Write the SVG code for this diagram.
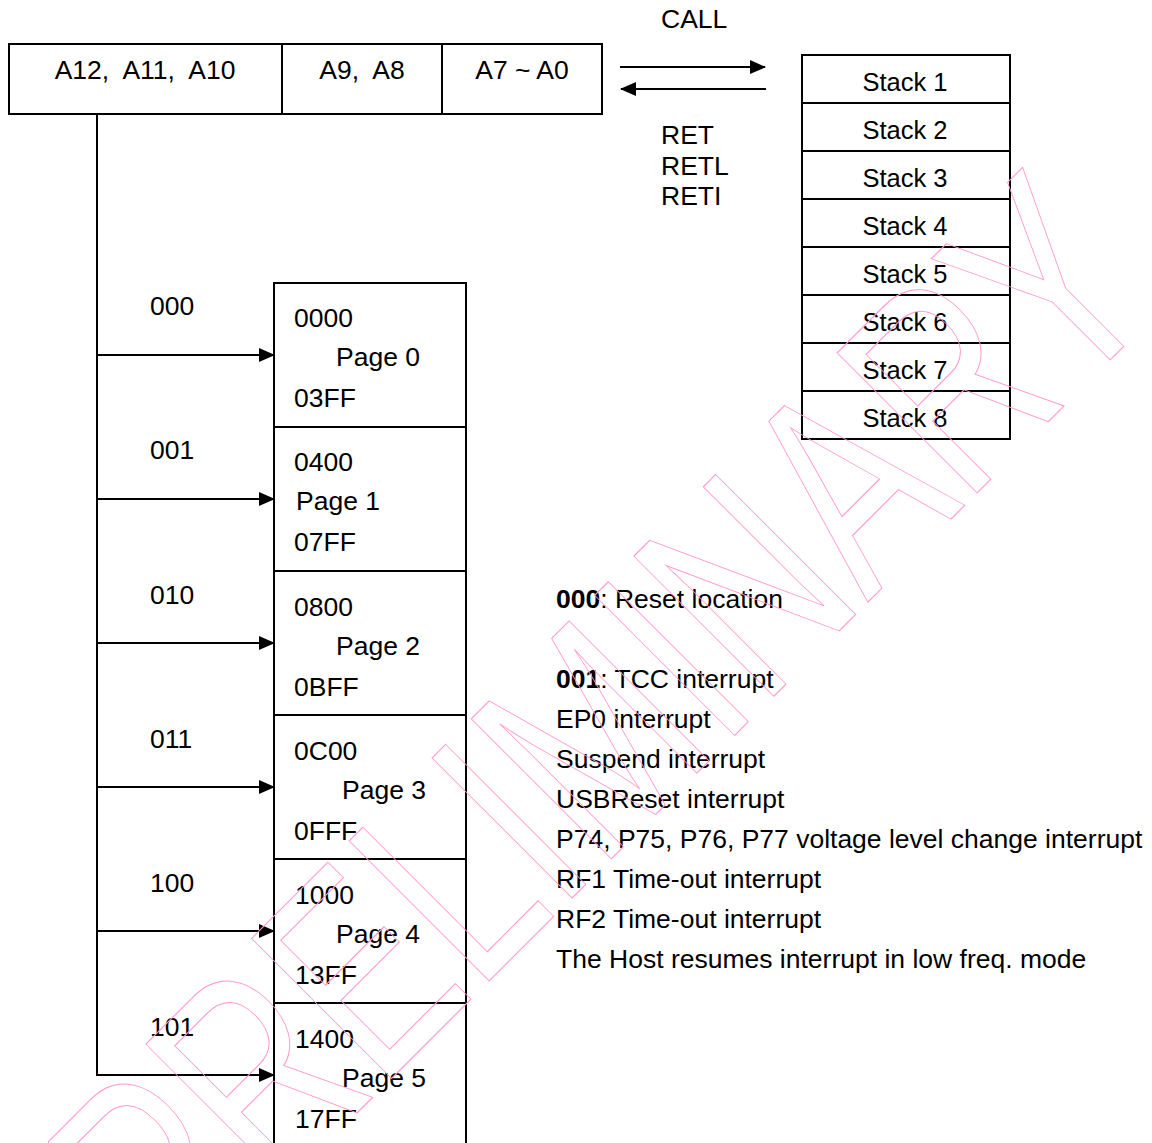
<svg xmlns="http://www.w3.org/2000/svg" width="1152" height="1143" viewBox="0 0 1152 1143">
<style>
  text { font-family: "Liberation Sans", Arial, sans-serif; font-size: 26.5px; fill: #000; }
  .stk { font-size: 25.5px; text-anchor: middle; }
  .box { fill: #fff; stroke: #000; stroke-width: 2; }
  .ln { fill: none; stroke: #000; stroke-width: 2; }
  .wm { font-family: "Liberation Sans", Arial, sans-serif; font-size: 207px; fill: none; stroke: #ff99cc; stroke-width: 1; }
</style>
<defs>
  <marker id="ah" markerWidth="16" markerHeight="14" refX="15" refY="7" orient="auto" markerUnits="userSpaceOnUse">
    <path d="M0,0 L16,7 L0,14 Z" fill="#000"/>
  </marker>
</defs>
<rect width="1152" height="1143" fill="#fff"/>

<g id="address-register">
  <rect class="box" x="9" y="44" width="593" height="70"/>
  <line class="ln" x1="282" y1="44" x2="282" y2="114"/>
  <line class="ln" x1="442" y1="44" x2="442" y2="114"/>
  <text x="145" y="79" text-anchor="middle" xml:space="preserve">A12,  A11,  A10</text>
  <text x="362" y="79" text-anchor="middle" xml:space="preserve">A9,  A8</text>
  <text x="522" y="79" text-anchor="middle">A7 ~ A0</text>
</g>

<g id="stack">
  <rect class="box" x="802" y="55" width="208" height="384"/>
  <line class="ln" x1="802" y1="103" x2="1010" y2="103"/>
  <line class="ln" x1="802" y1="151" x2="1010" y2="151"/>
  <line class="ln" x1="802" y1="199" x2="1010" y2="199"/>
  <line class="ln" x1="802" y1="247" x2="1010" y2="247"/>
  <line class="ln" x1="802" y1="295" x2="1010" y2="295"/>
  <line class="ln" x1="802" y1="343" x2="1010" y2="343"/>
  <line class="ln" x1="802" y1="391" x2="1010" y2="391"/>
  <text class="stk" x="905" y="91">Stack 1</text>
  <text class="stk" x="905" y="139">Stack 2</text>
  <text class="stk" x="905" y="187">Stack 3</text>
  <text class="stk" x="905" y="235">Stack 4</text>
  <text class="stk" x="905" y="283">Stack 5</text>
  <text class="stk" x="905" y="331">Stack 6</text>
  <text class="stk" x="905" y="379">Stack 7</text>
  <text class="stk" x="905" y="427">Stack 8</text>
</g>

<g id="page0">
  <rect class="box" x="274" y="283" width="192" height="144"/>
  <text x="294" y="327">0000</text>
  <text x="336" y="366">Page 0</text>
  <text x="294" y="407">03FF</text>
</g>
<g id="page1">
  <rect class="box" x="274" y="427" width="192" height="144"/>
  <text x="294" y="471">0400</text>
  <text x="296" y="510">Page 1</text>
  <text x="294" y="551">07FF</text>
</g>
<g id="page2">
  <rect class="box" x="274" y="571" width="192" height="144"/>
  <text x="294" y="616">0800</text>
  <text x="336" y="655">Page 2</text>
  <text x="294" y="696">0BFF</text>
</g>
<g id="page3">
  <rect class="box" x="274" y="715" width="192" height="144"/>
  <text x="294" y="760">0C00</text>
  <text x="342" y="799">Page 3</text>
  <text x="294" y="840">0FFF</text>
</g>
<g id="page4">
  <rect class="box" x="274" y="859" width="192" height="144"/>
  <text x="295" y="904">1000</text>
  <text x="336" y="943">Page 4</text>
  <text x="295" y="984">13FF</text>
</g>
<g id="page5">
  <rect class="box" x="274" y="1003" width="192" height="150"/>
  <text x="295" y="1048">1400</text>
  <text x="342" y="1087">Page 5</text>
  <text x="295" y="1128">17FF</text>
</g>

<g id="connectors">
  <polyline class="ln" points="97,114 97,1075"/>
  <line class="ln" x1="97" y1="355" x2="274" y2="355" marker-end="url(#ah)"/>
  <line class="ln" x1="97" y1="499" x2="274" y2="499" marker-end="url(#ah)"/>
  <line class="ln" x1="97" y1="643" x2="274" y2="643" marker-end="url(#ah)"/>
  <line class="ln" x1="97" y1="787" x2="274" y2="787" marker-end="url(#ah)"/>
  <line class="ln" x1="97" y1="931" x2="274" y2="931" marker-end="url(#ah)"/>
  <line class="ln" x1="96" y1="1075" x2="274" y2="1075" marker-end="url(#ah)"/>
  <line class="ln" x1="620" y1="67" x2="765" y2="67" marker-end="url(#ah)"/>
  <line class="ln" x1="766" y1="89" x2="621" y2="89" marker-end="url(#ah)"/>
</g>

<g id="labels">
  <text x="661" y="28">CALL</text>
  <text x="661" y="144">RET</text>
  <text x="661" y="175">RETL</text>
  <text x="661" y="205">RETI</text>
  <text x="150" y="315">000</text>
  <text x="150" y="459">001</text>
  <text x="150" y="604">010</text>
  <text x="150" y="748">011</text>
  <text x="150" y="892">100</text>
  <text x="150" y="1036">101</text>
</g>

<g id="notes">
  <text x="556" y="608"><tspan font-weight="bold">000</tspan>: Reset location</text>
  <text x="556" y="688"><tspan font-weight="bold">001</tspan>: TCC interrupt</text>
  <text x="556" y="728">EP0 interrupt</text>
  <text x="556" y="768">Suspend interrupt</text>
  <text x="556" y="808">USBReset interrupt</text>
  <text x="556" y="848">P74, P75, P76, P77 voltage level change interrupt</text>
  <text x="556" y="888">RF1 Time-out interrupt</text>
  <text x="556" y="928">RF2 Time-out interrupt</text>
  <text x="556" y="968">The Host resumes interrupt in low freq. mode</text>
</g>

<g id="watermark">
  <text class="wm" x="0" y="0" text-anchor="middle" vector-effect="non-scaling-stroke" transform="translate(671,799) rotate(-45) scale(1,1.39)">PRELIMINARY</text>
</g>
</svg>
